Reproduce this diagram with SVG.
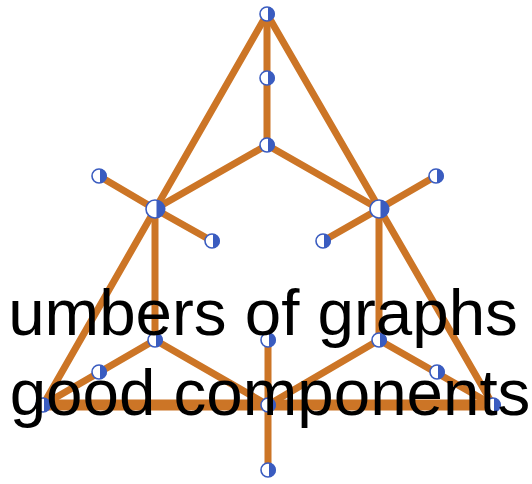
<svg xmlns="http://www.w3.org/2000/svg" width="532" height="484" viewBox="0 0 532 484">
<defs>
<style>
.e{stroke:#CC7526;stroke-width:7;stroke-linecap:round;fill:none}
.eb{stroke:#CC7526;stroke-width:11;fill:none}
.nc{fill:#fff;stroke:#3A5CC0;stroke-width:1.6}
.nh{fill:#3A5CC0}
.t{font-family:"Liberation Sans",Arial,sans-serif;font-size:65.5px;fill:#000;text-anchor:middle}
</style>
<g id="dot"><circle class="nc" r="7"/><path class="nh" d="M1,-7 A7,7 0 0 1 1,7 Z"/></g>
<g id="hub"><circle class="nc" r="9"/><path class="nh" d="M1.5,-9 A9,9 0 0 1 1.5,9 Z"/></g>
</defs>
<g id="connectors">
<line class="eb" x1="43" y1="405" x2="493" y2="405"/>
<line class="e" x1="267" y1="14" x2="43" y2="405"/>
<line class="e" x1="267" y1="14" x2="493" y2="405"/>
<line class="e" x1="267" y1="14" x2="267" y2="145"/>
<line class="e" x1="267" y1="145" x2="155" y2="209"/>
<line class="e" x1="267" y1="145" x2="379" y2="209"/>
<line class="e" x1="155" y1="209" x2="99" y2="176"/>
<line class="e" x1="155" y1="209" x2="212" y2="241"/>
<line class="e" x1="155" y1="209" x2="155" y2="340"/>
<line class="e" x1="379" y1="209" x2="436" y2="176"/>
<line class="e" x1="379" y1="209" x2="323" y2="241"/>
<line class="e" x1="379" y1="209" x2="379" y2="340"/>
<line class="e" x1="155" y1="340" x2="43" y2="405"/>
<line class="e" x1="155" y1="340" x2="268" y2="405"/>
<line class="e" x1="379" y1="340" x2="493" y2="405"/>
<line class="e" x1="379" y1="340" x2="268" y2="405"/>
<line class="e" x1="268" y1="340" x2="268" y2="470"/>
</g>
<g id="nodes">
<g id="n1"><use href="#dot" x="267" y="14"/></g>
<g id="n2"><use href="#dot" x="267" y="78"/></g>
<g id="n3"><use href="#dot" x="267" y="145"/></g>
<g id="n4"><use href="#hub" x="155" y="209"/></g>
<g id="n5"><use href="#hub" x="379" y="209"/></g>
<g id="n6"><use href="#dot" x="99" y="176"/></g>
<g id="n7"><use href="#dot" x="212" y="241"/></g>
<g id="n8"><use href="#dot" x="436" y="176"/></g>
<g id="n9"><use href="#dot" x="323" y="241"/></g>
<g id="n10"><use href="#dot" x="155" y="340"/></g>
<g id="n11"><use href="#dot" x="99" y="372"/></g>
<g id="n12"><use href="#dot" x="43" y="405"/></g>
<g id="n13"><use href="#dot" x="379" y="340"/></g>
<g id="n14"><use href="#dot" x="437" y="372"/></g>
<g id="n15"><use href="#dot" x="493" y="405"/></g>
<g id="n16"><use href="#dot" x="268" y="340"/></g>
<g id="n17"><use href="#dot" x="268" y="405"/></g>
<g id="n18"><use href="#dot" x="268" y="470"/></g>
</g>
<g id="label">
<text class="t" x="263" y="335">umbers of graphs</text>
<text class="t" x="270" y="415">good components</text>
</g>
</svg>
